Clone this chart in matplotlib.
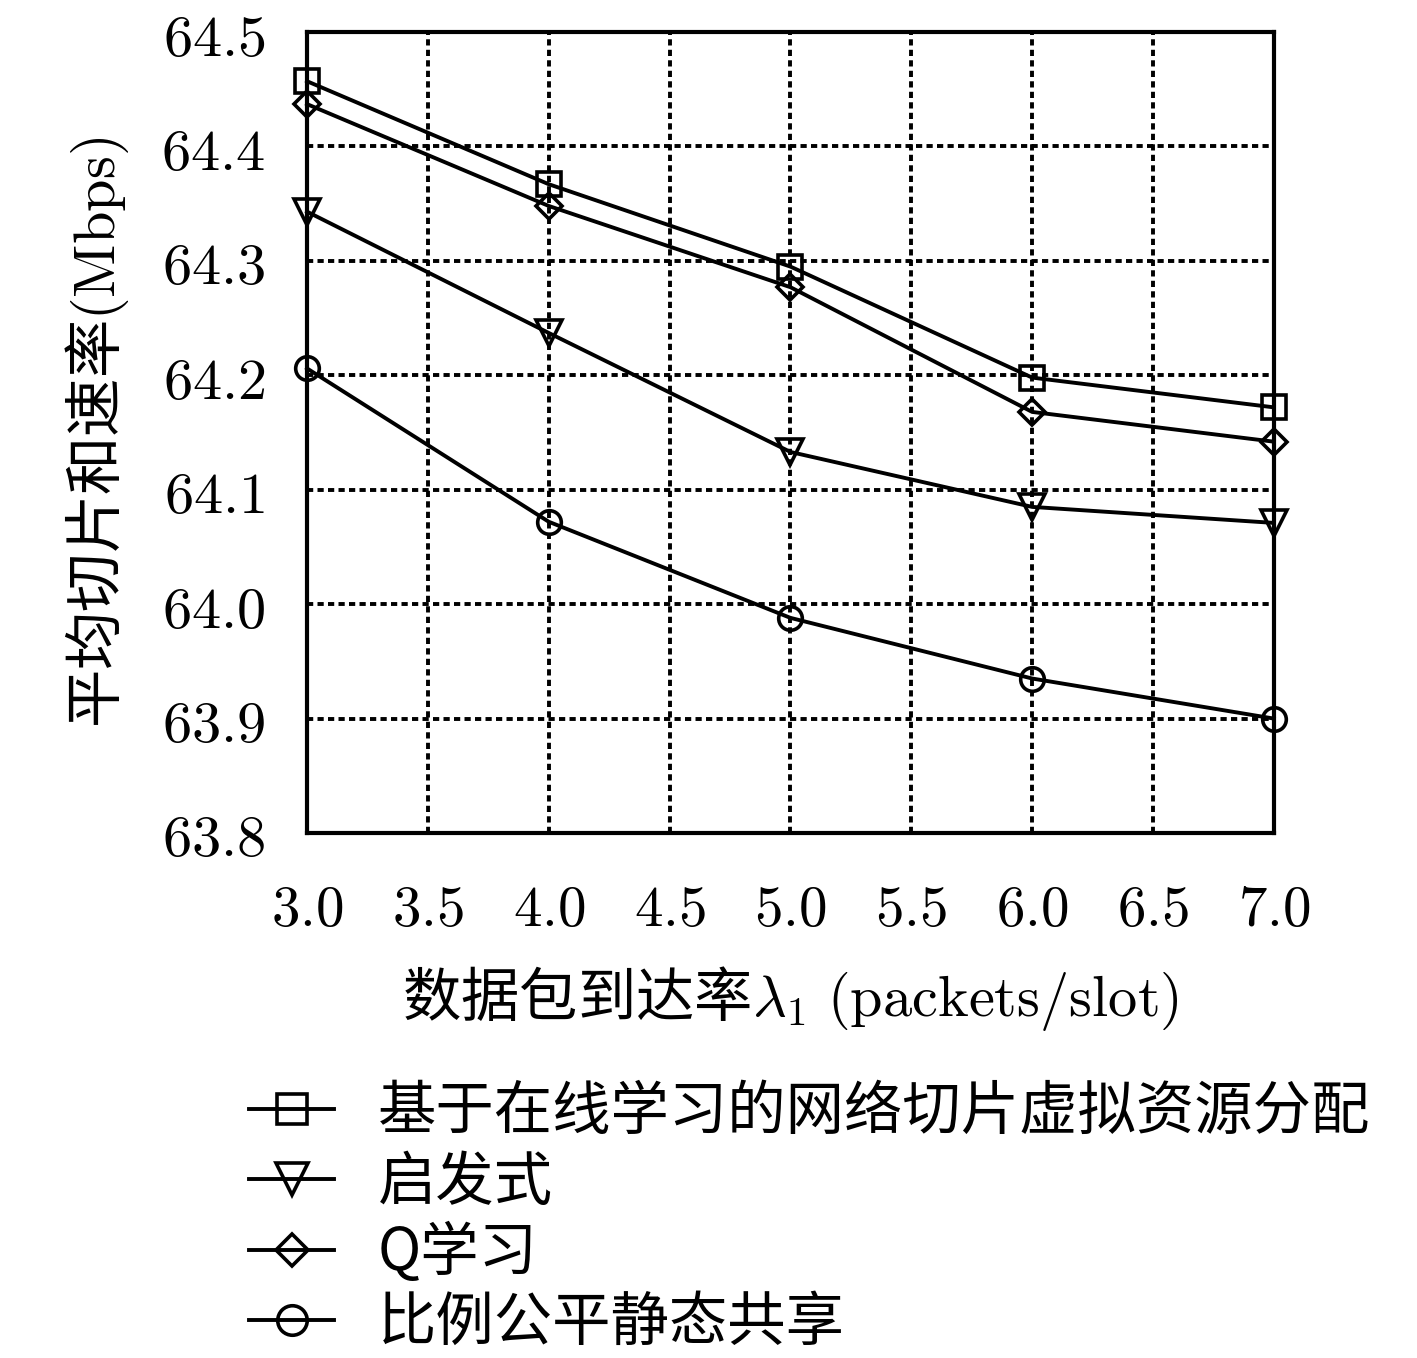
import matplotlib
matplotlib.use('Agg')
import matplotlib.pyplot as plt
from matplotlib.ticker import FuncFormatter

plt.rcParams['font.family'] = ['Noto Sans CJK SC', 'DejaVu Sans']
plt.rcParams['mathtext.fontset'] = 'cm'

# arrival rate
rates = [3.0, 4.0, 5.0, 6.0, 7.0]

# average slice sum rate (Mbps)
online = [64.457, 64.367, 64.295, 64.198, 64.172]
heuristic = [64.343, 64.237, 64.133, 64.085, 64.071]
qlearn = [64.437, 64.348, 64.277, 64.168, 64.142]
static = [64.206, 64.072, 63.988, 63.935, 63.900]

labels = ['基于在线学习的网络切片虚拟资源分配', '启发式', 'Q学习', '比例公平静态共享']

fig = plt.figure(figsize=(14.17, 13.58), dpi=100)
ax = fig.add_axes([0.2167, 0.3866, 0.6823, 0.5898])

style = dict(color='black', linewidth=2.8, markersize=17, markerfacecolor='none',
             markeredgewidth=2.6, clip_on=False, zorder=3)
ax.plot(rates, online, marker='s', label=labels[0], **style)
ax.plot(rates, heuristic, marker='v', label=labels[1], **dict(style, markersize=19))
ax.plot(rates, qlearn, marker='D', label=labels[2], **dict(style, markersize=13))
ax.plot(rates, static, marker='o', label=labels[3], **style)

ax.set_xlim(3.0, 7.0)
ax.set_ylim(63.8, 64.5)
ax.set_xticks([3.0, 3.5, 4.0, 4.5, 5.0, 5.5, 6.0, 6.5, 7.0])
ax.set_yticks([63.8, 63.9, 64.0, 64.1, 64.2, 64.3, 64.4, 64.5])
ax.xaxis.set_major_formatter(FuncFormatter(lambda v, p: '$%.1f$' % v))
ax.yaxis.set_major_formatter(FuncFormatter(lambda v, p: '$%.1f$' % v))
ax.tick_params(length=0)
ax.tick_params(axis='x', pad=34, labelsize=41)
ax.tick_params(axis='y', pad=30, labelsize=42)

ax.grid(True, color='black', linestyle=(0, (1.6, 1.1)), linewidth=2.8)
for s in ax.spines.values():
    s.set_linewidth(3.0)

ax.set_xlabel(r'数据包到达率$\lambda_1\ \mathrm{(packets/slot)}$', fontsize=42, labelpad=18)
ax.set_ylabel(r'平均切片和速率$\mathrm{(Mbps)}$', fontsize=42, labelpad=22)

fig.legend(loc='upper left', bbox_to_anchor=(0.176, 0.203), frameon=False,
           fontsize=42, handlelength=1.45, handletextpad=0.75, labelspacing=0.16,
           markerscale=1.25, borderpad=0, borderaxespad=0)

fig.savefig('out.png', dpi=100)
